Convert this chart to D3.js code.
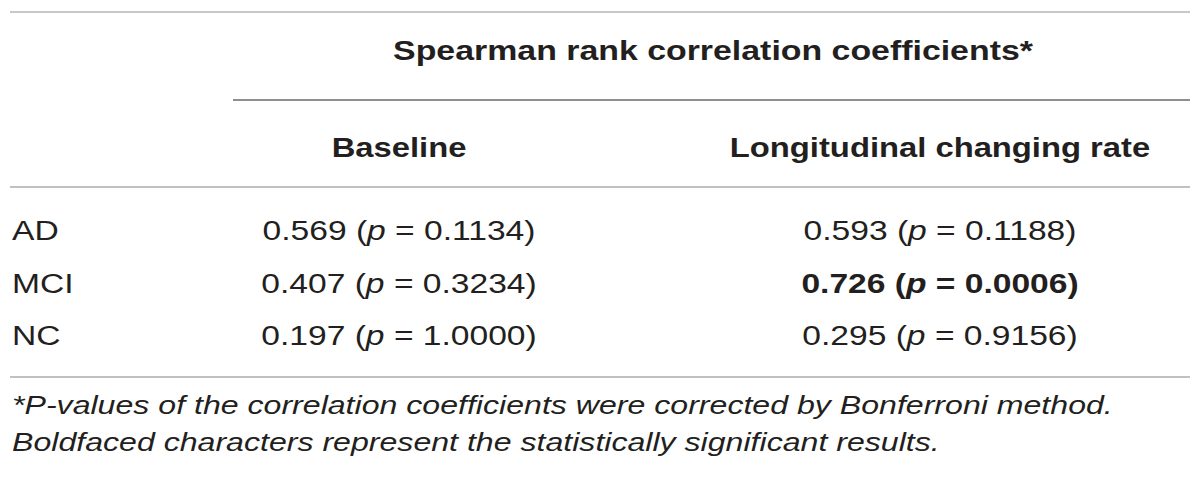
<!DOCTYPE html>
<html>
<head>
<meta charset="utf-8">
<script src="https://cdn.jsdelivr.net/npm/d3@7"></script>
<style>
  body { margin: 0; background: #fff; }
  text { font-family: "Liberation Sans", Arial, sans-serif; fill: #231f20; }
</style>
</head>
<body>
<div id="table"></div>
<script>
var groups = ['AD', 'MCI', 'NC'];
var baselineR = [0.569, 0.407, 0.197];
var baselineP = [0.1134, 0.3234, 1.0000];
var longR = [0.593, 0.726, 0.295];
var longP = [0.1188, 0.0006, 0.9156];
var columns = ['Baseline', 'Longitudinal changing rate'];
var spanTitle = 'Spearman rank correlation coefficients*';
var footnotes = [
    '*P-values of the correlation coefficients were corrected by Bonferroni method.',
    'Boldfaced characters represent the statistically significant results.'
];

var width = 1200, height = 481;

var svg = d3.select('#table').append('svg').attr('width', width).attr('height', height);

var x = d3.scaleOrdinal().domain(columns).range([399, 940]);
var y = d3.scalePoint().domain(groups).range([240, 345]);

function rule(y0, x0, x1, color) {
    svg.append('line').attr('x1', x0).attr('x2', x1).attr('y1', y0).attr('y2', y0)
       .attr('stroke', color).attr('stroke-width', 2);
}

// the source picture is a bit wider than the font, so stretch text sideways
function label(px, py, anchor, sx) {
    return svg.append('g').attr('transform', 'translate(' + px + ',' + py + ') scale(' + sx + ',1)')
              .append('text').attr('text-anchor', anchor);
}

rule(12, 10, 1190, '#c8c8c8');
rule(100, 233, 1190, '#8f8f8f');
rule(187, 10, 1190, '#c0c0c0');
rule(377, 10, 1190, '#c0c0c0');

// headers
label(713, 60, 'middle', 1.21).attr('font-size', 28).attr('font-weight', 'bold').text(spanTitle);
columns.forEach(function (c) {
    label(x(c), 157, 'middle', 1.17).attr('font-size', 28).attr('font-weight', 'bold').text(c);
});

// body
var cells = [
    { col: columns[0], r: baselineR, p: baselineP },
    { col: columns[1], r: longR, p: longP }
];

groups.forEach(function (g, i) {
    label(12, y(g), 'start', 1.2).attr('font-size', 28).text(g);
    cells.forEach(function (c) {
        var t = label(x(c.col), y(g), 'middle', 1.2).attr('font-size', 28)
            .attr('font-weight', c.p[i] < 0.05 ? 'bold' : 'normal');
        t.append('tspan').text(c.r[i].toFixed(3) + ' (');
        t.append('tspan').attr('font-style', 'italic').text('p');
        t.append('tspan').text(' = ' + c.p[i].toFixed(4) + ')');
    });
});

// footnotes
footnotes.forEach(function (f, i) {
    label(12, 414 + i * 37, 'start', 1.235).attr('font-size', 26).attr('font-style', 'italic').text(f);
});
</script>
</body>
</html>
